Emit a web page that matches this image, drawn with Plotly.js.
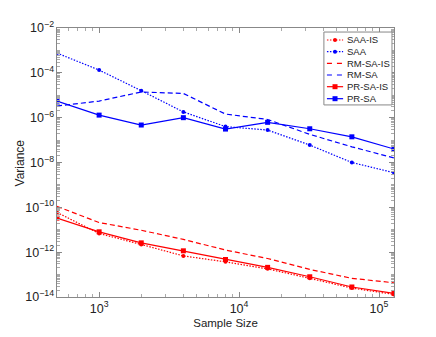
<!DOCTYPE html>
<html><head><meta charset="utf-8">
<script src="https://cdn.plot.ly/plotly-3.0.1.min.js"></script>
<style>html,body{margin:0;padding:0;background:#fff}#c{width:436px;height:337px}</style>
</head><body><div id="c"></div>
<script>
const sampleSize = [500, 1000, 2000, 4000, 8000, 16000, 32000, 64000, 128000];
const saaIS   = [5.9e-11, 6.8e-12, 2.2e-12, 6.8e-13, 3.7e-13, 1.8e-13, 6.8e-14, 2.5e-14, 1.3e-14];
const saa     = [7.6e-4, 1.33e-4, 1.6e-5, 1.8e-6, 4.0e-7, 2.8e-7, 6.0e-8, 1.0e-8, 3.5e-9];
const rmSaIS  = [1.1e-10, 2.1e-11, 9.5e-12, 3.7e-12, 1.25e-12, 5.2e-13, 1.7e-13, 6.8e-14, 4.3e-14];
const rmSa    = [3.3e-6, 5.5e-6, 1.4e-5, 1.2e-5, 1.45e-6, 8.3e-7, 1.8e-7, 5.0e-8, 1.6e-8];
const prSaIS  = [3.3e-11, 8.1e-12, 2.6e-12, 1.15e-12, 4.7e-13, 2.1e-13, 8.0e-14, 2.8e-14, 1.45e-14];
const prSa    = [5.5e-6, 1.3e-6, 4.7e-7, 1.0e-6, 3.1e-7, 6.2e-7, 3.2e-7, 1.4e-7, 4.0e-8];
const names = ['SAA-IS', 'SAA', 'RM-SA-IS', 'RM-SA', 'PR-SA-IS', 'PR-SA'];

const RED = '#ff0000', BLUE = '#0000ff';
const DOT = '1.5px,1.5px', DASH = '5px,3px';
const styles = [
  {color: RED, dash: DOT, marker: 'circle'},
  {color: BLUE, dash: DOT, marker: 'circle'},
  {color: RED, dash: DASH, marker: null},
  {color: BLUE, dash: DASH, marker: null},
  {color: RED, dash: 'solid', marker: 'square'},
  {color: BLUE, dash: 'solid', marker: 'square'}
];
const series = [saaIS, saa, rmSaIS, rmSa, prSaIS, prSa];

const data = series.map((y, i) => {
  const s = styles[i];
  const t = {x: sampleSize, y: y, name: names[i], type: 'scatter', showlegend: false,
    line: {color: s.color, width: 1.2, dash: s.dash}};
  if (s.marker) { t.mode = 'lines+markers'; t.marker = {symbol: s.marker, size: s.marker === 'square' ? 5 : 4, color: s.color}; }
  else t.mode = 'lines';
  return t;
});

// custom compact legend (paper coordinates)
const shapes = [], annotations = [];
const lgX0 = 0.792, lgX1 = 0.994, lgY0 = 0.714, lgY1 = 0.985;
shapes.push({type: 'rect', xref: 'paper', yref: 'paper', x0: lgX0, x1: lgX1, y0: lgY0, y1: lgY1,
  line: {color: '#888', width: 1}, fillcolor: '#fff', layer: 'above'});
const rowY = [0.9554, 0.9119, 0.8688, 0.8253, 0.7818, 0.7372];
names.forEach((n, i) => {
  const s = styles[i], yy = rowY[i];
  shapes.push({type: 'line', xref: 'paper', yref: 'paper', x0: 0.801, x1: 0.849, y0: yy, y1: yy,
    line: {color: s.color, width: 1.2, dash: s.dash === DASH ? '5px,5px' : s.dash}, layer: 'above'});
  if (s.marker) {
    const h = s.marker === 'square' ? 2.5 : 2;
    shapes.push({type: s.marker === 'square' ? 'rect' : 'circle', xref: 'paper', yref: 'paper',
      xsizemode: 'pixel', ysizemode: 'pixel', xanchor: 0.825, yanchor: yy,
      x0: -h, x1: h, y0: -h, y1: h, fillcolor: s.color, line: {color: s.color, width: 0}, layer: 'above'});
  }
  annotations.push({xref: 'paper', yref: 'paper', x: 0.855, y: yy, xanchor: 'left', yanchor: 'middle',
    text: n, showarrow: false, font: {size: 9.5, color: '#222'}});
});
// y-axis title
annotations.push({xref: 'paper', yref: 'paper', x: -0.11, y: 0.5, xanchor: 'center', yanchor: 'middle',
  textangle: -90, text: 'Variance', showarrow: false, font: {size: 12, color: '#222'}});

const axCommon = {type: 'log', showline: true, linecolor: '#888', linewidth: 1, mirror: 'allticks',
  ticks: 'inside', ticklen: 5, tickcolor: '#888', showgrid: false, zeroline: false,
  exponentformat: 'power', tickfont: {family: 'Liberation Sans, Arial', size: 10, color: '#222'},
  minor: {ticks: 'inside', ticklen: 3, tickcolor: '#aaa', dtick: 'D1', showgrid: false}};
const layout = {
  width: 436, height: 337,
  margin: {l: 57, r: 42, t: 28, b: 40},
  paper_bgcolor: '#fff', plot_bgcolor: '#fff',
  font: {family: 'Liberation Sans, Arial', size: 11, color: '#222'},
  showlegend: false,
  shapes: shapes, annotations: annotations,
  xaxis: Object.assign({}, axCommon, {range: [Math.log10(500), Math.log10(128000)], dtick: 1,
    title: {text: 'Sample Size', standoff: 4, font: {size: 11.5}}}),
  yaxis: Object.assign({}, axCommon, {range: [-14, -2], dtick: 2, tick0: 0})
};
Plotly.newPlot('c', data, layout, {displayModeBar: false, staticPlot: true});
</script></body></html>
